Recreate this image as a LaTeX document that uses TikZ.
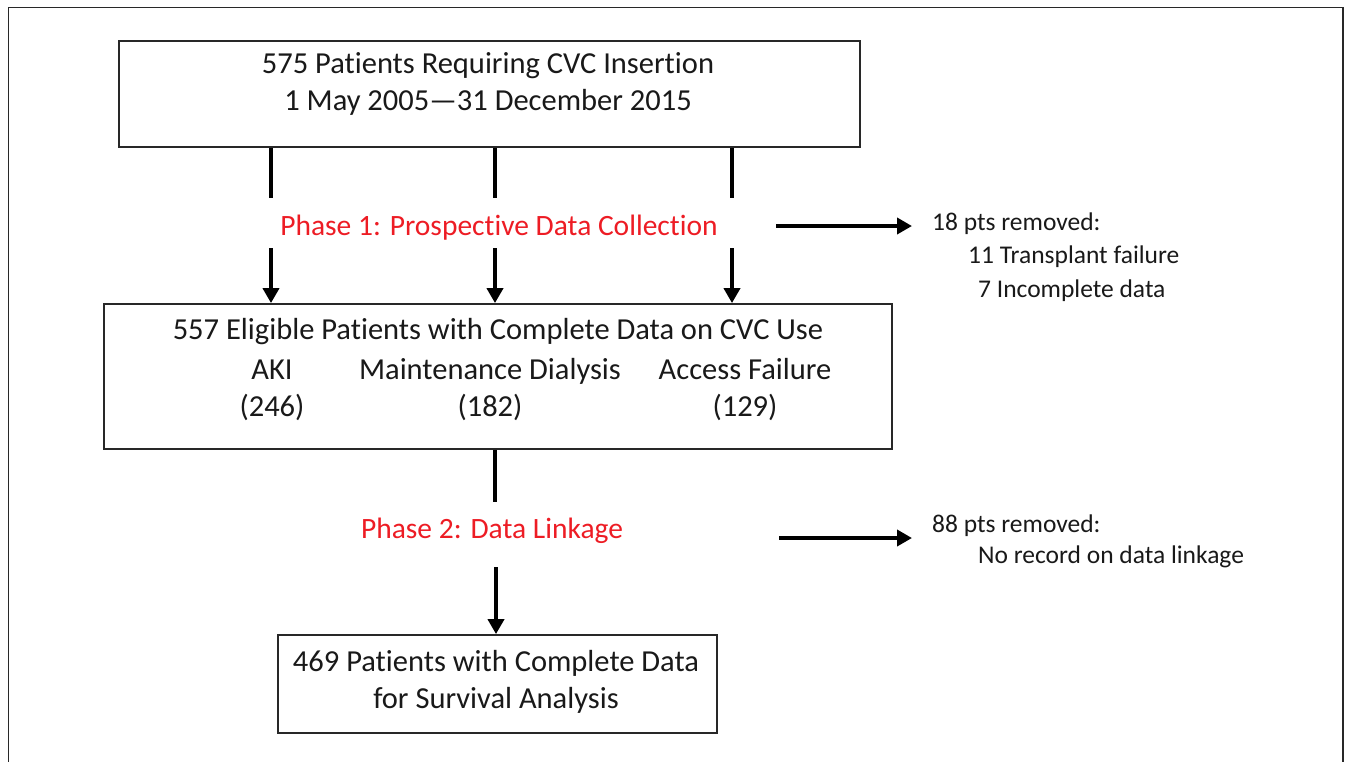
\documentclass[tikz,border=0pt]{standalone}
\usepackage{fontspec}
\setmainfont{Carlito}[RawFeature={-liga;-clig;-dlig;-calt}]
\usetikzlibrary{arrows.meta}
\definecolor{phasered}{RGB}{237,28,36}
\definecolor{framegray}{RGB}{40,40,40}
\begin{document}
\begin{tikzpicture}[x=1pt,y=-1pt,
  box/.style={draw=framegray, line width=1.8pt, inner sep=0pt, fill=white},
  main/.style={font=\fontsize{30.5}{37}\selectfont, inner sep=0pt, anchor=base, align=center, text=black!90},
  phase/.style={font=\fontsize{29.5}{33}\selectfont, inner sep=0pt, anchor=base, text=phasered},
  side/.style={font=\fontsize{25.5}{33}\selectfont, inner sep=0pt, anchor=base west, text=black!90},
  conn/.style={line width=4.5pt},
  arr/.style={line width=4pt, -{Triangle[length=15pt,width=16pt]}}]
\useasboundingbox (0,0) rectangle (1345,761);
% outer frame (open at the bottom)
\draw[framegray, line width=1.8pt] (8.5,765) -- (8.5,7.5) -- (1343,7.5) -- (1343,765);

% boxes
\node[box, minimum width=741pt, minimum height=106pt] (b1) at (489.5,94) {};
\node[box, minimum width=788pt, minimum height=145pt] (b2) at (498,376.5) {};
\node[box, minimum width=439pt, minimum height=98pt] (b3) at (497.5,684) {};

% box texts (base anchor = baseline of last line)
\node[main] (b1t) at (488,110) {575 Pat\kern0pt ients Requiring CVC Insert\kern0pt ion\\1 May 2005---31 December 2015};
\node[main] (b2t) at (498,339) {557 Eligible Pat\kern0pt ients with Complete Data on CVC Use};
\node[main] (aki) at (272,416) {AKI\\(246)};
\node[main] (md) at (490,416) {Maintenance Dialysis\\(182)};
\node[main] (af) at (745,416) {Access Failure\\(129)};
\node[main] (b3t) at (496,708) {469 Pat\kern0pt ients with Complete Data\\for Survival Analysis};

% phase labels
\node[phase] (p1) at (499,235) {Phase 1: Prospect\kern0pt ive Data Collect\kern0pt ion};
\node[phase] (p2) at (492,538) {Phase 2: Data Linkage};

% side notes
\node[side] (r1) at (932,230) {18 pts removed:};
\node[side] (r2) at (968,263) {11 Transplant failure};
\node[side] (r3) at (978,297) {7 Incomplete data};
\node[side] (r4) at (932,532) {88 pts removed:};
\node[side] (r5) at (978,563) {No record on data linkage};

% phase 1 connectors
\coordinate (t1) at (271,198);
\coordinate (t2) at (495,198);
\coordinate (t3) at (732,198);
\coordinate (s1) at (271,248);
\coordinate (s2) at (495,248);
\coordinate (s3) at (732,248);
\draw[conn] (b1.south -| t1) -- (t1);
\draw[conn] (b1.south -| t2) -- (t2);
\draw[conn] (b1.south -| t3) -- (t3);
\draw[arr] (s1) -- (s1 |- b2.north);
\draw[arr] (s2) -- (s2 |- b2.north);
\draw[arr] (s3) -- (s3 |- b2.north);

% phase 2 connectors
\coordinate (t4) at (495,502);
\coordinate (s4) at (496,567);
\draw[conn] (b2.south -| t4) -- (t4);
\draw[arr] (s4) -- (s4 |- b3.north);

% exclusion arrows
\coordinate (e1) at (776,226);
\coordinate (e2) at (779,538);
\draw[arr] (e1) -- ([xshift=-20pt]r1.west |- e1);
\draw[arr] (e2) -- ([xshift=-20pt]r4.west |- e2);
\end{tikzpicture}
\end{document}
